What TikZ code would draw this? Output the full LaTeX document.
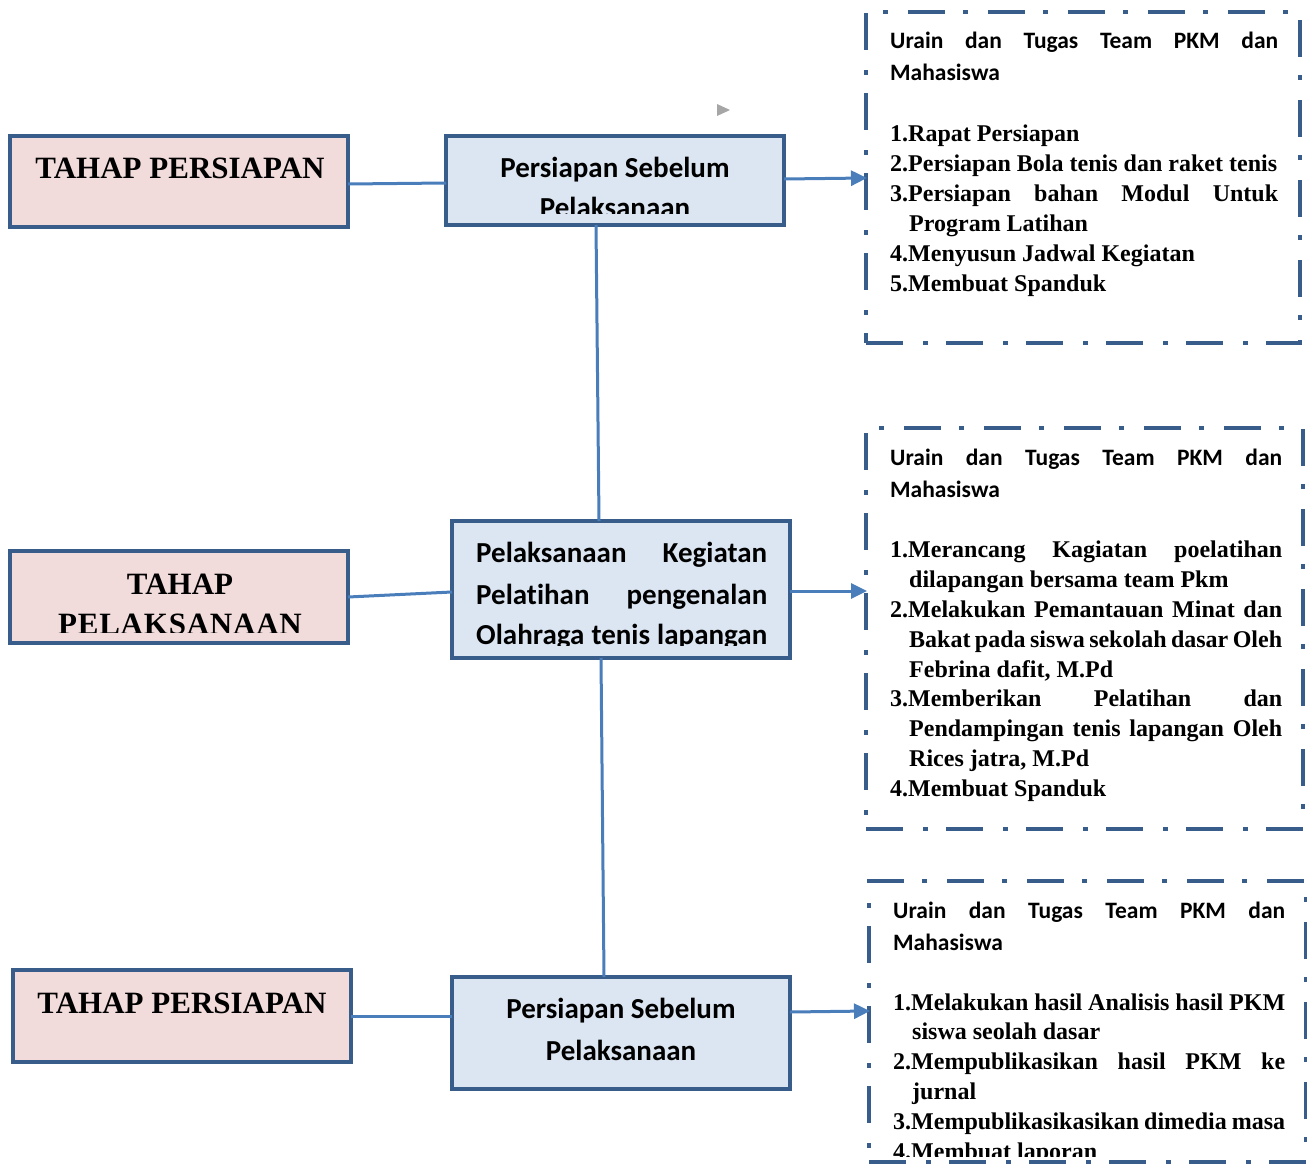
\documentclass[tikz,border=0pt]{standalone}
\usepackage{fontspec}
\setmainfont{Liberation Serif}
\newfontfamily\calib[Ligatures=NoCommon]{Carlito}
\usetikzlibrary{arrows.meta}
\definecolor{bordc}{HTML}{385D8A}
\definecolor{connc}{HTML}{4A7EBB}
\definecolor{pinkf}{HTML}{F2DCDB}
\definecolor{bluef}{HTML}{DCE6F2}
\tikzset{
  leftbox/.style={draw=bordc, fill=pinkf, line width=4pt, inner sep=0pt, outer sep=0pt},
  midbox/.style={draw=bordc, fill=bluef, line width=4pt, inner sep=0pt, outer sep=0pt},
  dbox/.style={draw=bordc, line width=4pt, inner sep=0pt, outer sep=0pt,
    dash pattern=on 37pt off 20pt on 5pt off 18pt},
  conn/.style={draw=connc, line width=3pt},
  arr/.style={conn, -{Triangle[length=16pt,width=15pt]}, shorten >=-1pt},
  itm/.style={inner sep=0pt, anchor=base west, font=\fontsize{24}{30}\selectfont\bfseries},
  hd/.style={inner sep=0pt, anchor=base west, font=\fontsize{23.5}{30}\selectfont\calib\bfseries},
  mtx/.style={inner sep=0pt, font=\fontsize{29}{34}\selectfont\calib\bfseries},
  ltx/.style={inner sep=0pt, anchor=base, font=\fontsize{31}{34}\selectfont\bfseries},
}
\begin{document}
\begin{tikzpicture}[x=1pt,y=-1pt]
\useasboundingbox (0,0) rectangle (1307,1164);
% left boxes
\node[leftbox, minimum width=338pt, minimum height=91pt] (L1) at (179,181.5) {};
\node[leftbox, minimum width=338pt, minimum height=92pt] (L2) at (179,597) {};
\node[leftbox, minimum width=338pt, minimum height=92pt] (L3) at (182,1016) {};
% middle boxes
\node[midbox, minimum width=338pt, minimum height=89pt] (M1) at (615,180.5) {};
\node[midbox, minimum width=338pt, minimum height=137pt] (M2) at (621,589.5) {};
\node[midbox, minimum width=338pt, minimum height=112pt] (M3) at (621,1033) {};
% dashed boxes
\node[dbox, minimum width=434pt, minimum height=331pt] (D1) at (1083,177.5) {};
\node[dbox, minimum width=437pt, minimum height=401pt] (D2) at (1084.5,628.5) {};
\node[dbox, minimum width=437pt, minimum height=281pt] (D3) at (1087.5,1021.5) {};
% connectors
\draw[conn] ([yshift=-2.5pt]L1.east) -- ([yshift=-2.5pt]M1.west);
\draw[conn] (L2.east) -- ([yshift=-2.5pt]M2.west);
\draw[conn] (L3.east) -- (L3.east -| M3.west);
\draw[conn] ([xshift=-19pt]M1.south) -- ([xshift=-22pt]M2.north);
\draw[conn] ([xshift=-20pt]M2.south) -- ([xshift=-17pt]M3.north);
\draw[arr] ([yshift=1.5pt]M1.east) -- ([yshift=2.5pt]M1.east -| D1.west);
\draw[arr] ([yshift=-1.5pt]M2.east) -- ([yshift=-1.5pt]M2.east -| D2.west);
\draw[arr] ([yshift=21pt]M3.east) -- ([yshift=22pt]M3.east -| D3.west);
% small grey triangle
\fill[gray!70] (717,104) -- (730,110) -- (717,116) -- cycle;
% left texts
\node[ltx] (l1t) at (180,178) {TAHAP PERSIAPAN};
\node[ltx] (l2t) at (180,594) {TAHAP};
\begin{scope}
\clip (12,553) rectangle (346,632);
\node[ltx] (l2u) at (180,634) {\addfontfeature{LetterSpace=2.5}PELAKSANAAN};
\end{scope}
\node[ltx] (l3t) at (182,1013) {TAHAP PERSIAPAN};
% middle texts
\node[mtx, anchor=base] (m1a) at (615,177) {Persiapan Sebelum};
\begin{scope}
\clip (448,138) rectangle (782,213);
\node[mtx, anchor=base] (m1b) at (615,217) {Pelaksanaan};
\end{scope}
\node[mtx, anchor=base west] (m2a) at (476,562) {\makebox[291pt][s]{Pelaksanaan Kegiatan}};
\node[mtx, anchor=base west] (m2b) at (476,604) {\makebox[291pt][s]{Pelatihan pengenalan}};
\begin{scope}
\clip (454,523) rectangle (788,645);
\node[mtx, anchor=base west] (m2c) at (476,644) {\makebox[291pt][s]{Olahraga tenis lapangan}};
\end{scope}
\node[mtx, anchor=base] (m3a) at (621,1018) {Persiapan Sebelum};
\node[mtx, anchor=base] (m3b) at (621,1060) {Pelaksanaan};
% dashed box 1 text
\node[hd] (a1) at (890,49) {\makebox[388pt][s]{Urain dan Tugas Team PKM dan}};
\node[hd] (a2) at (890,81) {Mahasiswa};
\node[itm] (a3) at (890,141) {1.Rapat Persiapan};
\node[itm] (a4) at (890,171) {\makebox[387pt][s]{2.Persiapan Bola tenis dan raket tenis}};
\node[itm] (a5) at (890,201) {\makebox[388pt][s]{3.Persiapan bahan Modul Untuk}};
\node[itm] (a6) at (909,231) {Program Latihan};
\node[itm] (a7) at (890,261) {4.Menyusun Jadwal Kegiatan};
\node[itm] (a8) at (890,291) {5.Membuat Spanduk};
% dashed box 2 text
\node[hd] (b1) at (890,465) {\makebox[392pt][s]{Urain dan Tugas Team PKM dan}};
\node[hd] (b2) at (890,497) {Mahasiswa};
\node[itm] (b3) at (890,557) {\makebox[392pt][s]{1.Merancang Kagiatan poelatihan}};
\node[itm] (b4) at (909,587) {dilapangan bersama team Pkm};
\node[itm] (b5) at (890,617) {\makebox[392pt][s]{2.Melakukan Pemantauan Minat dan}};
\node[itm] (b6) at (909,647) {\makebox[373pt][s]{Bakat pada siswa sekolah dasar Oleh}};
\node[itm] (b7) at (909,677) {Febrina dafit, M.Pd};
\node[itm] (b8) at (890,706) {\makebox[392pt][s]{3.Memberikan Pelatihan dan}};
\node[itm] (b9) at (909,736) {\makebox[373pt][s]{Pendampingan tenis lapangan Oleh}};
\node[itm] (b10) at (909,766) {Rices jatra, M.Pd};
\node[itm] (b11) at (890,796) {4.Membuat Spanduk};
% dashed box 3 text
\node[hd] (c1) at (893,918) {\makebox[392pt][s]{Urain dan Tugas Team PKM dan}};
\node[hd] (c2) at (893,950) {Mahasiswa};
\node[itm] (c3) at (893,1010) {\makebox[392pt][s]{1.Melakukan hasil Analisis hasil PKM}};
\node[itm] (c4) at (912,1039) {siswa seolah dasar};
\node[itm] (c5) at (893,1069) {\makebox[392pt][s]{2.Mempublikasikan hasil PKM ke}};
\node[itm] (c6) at (912,1099) {jurnal};
\node[itm] (c7) at (893,1129) {\makebox[392pt][s]{3.Mempublikasikasikan dimedia masa}};
\begin{scope}
\clip (872,1100) rectangle (1300,1156);
\node[itm] (c8) at (893,1159) {4.Membuat laporan};
\end{scope}
\end{tikzpicture}
\end{document}
